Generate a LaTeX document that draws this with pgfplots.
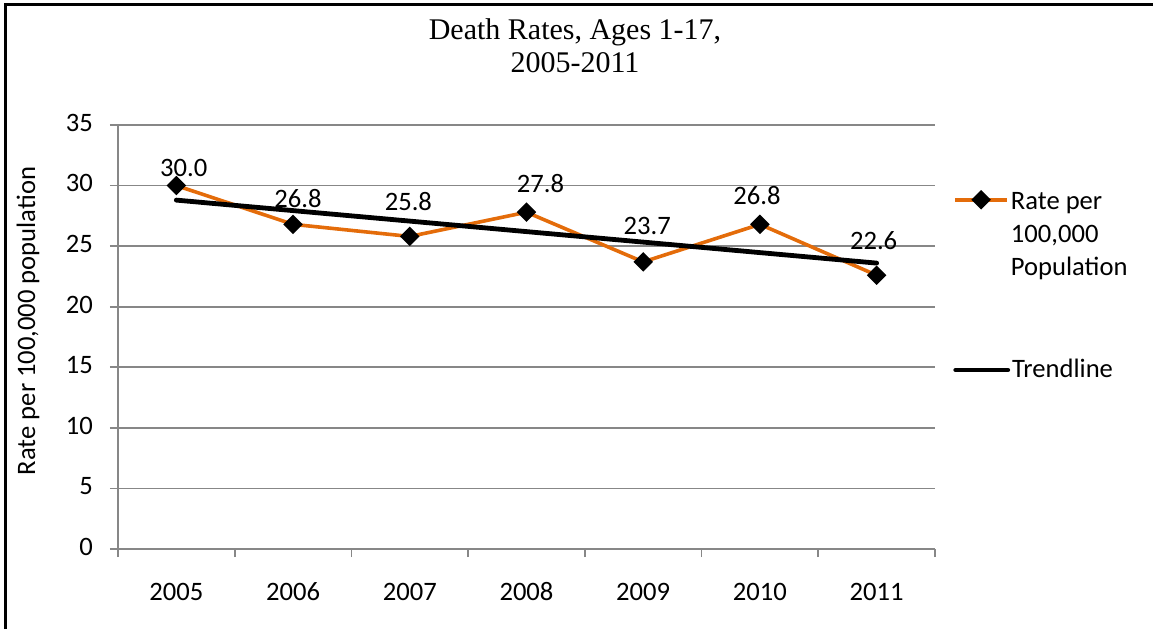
\documentclass[border=0pt]{standalone}
\usepackage{pgfplots}
\pgfplotsset{compat=1.18}
\usepackage{fontspec}
\setmainfont{Carlito}
\newfontfamily\titlefont{Liberation Serif}
\definecolor{rateorange}{HTML}{E46C0A}
\definecolor{gridgray}{HTML}{878787}

% year index, rate, label shift (pt)
\pgfplotstableread{
x  y     dx    dy
0  30.0  3.7   4.5
1  26.8  2.5   8.3
2  25.8  -0.7  12.8
3  27.8  7.0   10.0
4  23.7  2.0   13.5
5  26.8  -1.5  9.8
6  22.6  -1.5  13.0
}\ratedata

\pgfplotsset{
  chartbox/.style={at={(59pt,40pt)}, anchor=south west,
    scale only axis, width=408.5pt, height=212pt,
    xmin=-0.5, xmax=6.5, ymin=0, ymax=35},
  chartlegend/.style={draw=none, fill=none,
    font=\fontsize{13.3}{16.5}\selectfont, inner sep=0pt, nodes={inner sep=1pt}},
  legend cell align=left,
  legend image code/.code={\draw[mark repeat=2, mark phase=2]
    plot coordinates {(0pt,0pt) (13pt,0pt) (26pt,0pt)};},
}

\begin{document}
\begin{tikzpicture}
\useasboundingbox (0,0) rectangle (576.5pt,314.5pt);
% frame: only the top and left edges show in the reference
\draw[line width=1.2pt] (2.75pt,0pt) -- (2.75pt,312.3pt) -- (576.5pt,312.3pt);
\node[font=\titlefont\fontsize{15}{16.5}\selectfont, align=center] at (287.5pt,291.5pt)
  {Death Rates, Ages 1-17,\\2005-2011};
\begin{axis}[
    chartbox,
    axis lines*=left,
    axis line style={gridgray, line width=0.8pt},
    xtick={0,...,6},
    xticklabels={2005,2006,2007,2008,2009,2010,2011},
    minor xtick={-0.5,0.5,...,6.5},
    ytick={0,5,...,35},
    xtick pos=bottom, ytick pos=left,
    tick align=outside,
    major tick length=4pt, minor tick length=4pt,
    major x tick style={draw=none},
    minor x tick style={gridgray, line width=0.8pt},
    major y tick style={gridgray, line width=0.8pt},
    ymajorgrids,
    major grid style={gridgray, line width=0.8pt},
    /pgf/number format/assume math mode=true,
    typeset ticklabels with strut,
    tick label style={font=\fontsize{13.3}{16}\selectfont, text=black},
    xticklabel style={yshift=-7pt},
    yticklabel style={xshift=-5pt},
    ylabel={Rate per 100,000 population},
    every axis y label/.style={at={(axis description cs:-0.110,0.538)}, rotate=90, anchor=center,
      font=\fontsize{13.3}{16}\selectfont},
    legend style={chartlegend, at={(rel axis cs:1.022,0.86)}, anchor=north west},
]
\addplot[rateorange, line width=1.8pt, mark=square*,
    mark options={fill=black, draw=black, rotate=45, mark size=2.55pt},
    visualization depends on={\thisrow{dx} \as \labdx},
    visualization depends on={\thisrow{dy} \as \labdy},
    nodes near coords={\pgfmathprintnumber[fixed, fixed zerofill, precision=1]{\pgfplotspointmeta}},
    every node near coord/.append style={font=\fontsize{13.3}{16}\selectfont, text=black,
      anchor=base, inner sep=0pt, xshift=\labdx pt, yshift=\labdy pt}]
  table[x=x, y=y] {\ratedata};
\addlegendentry{\begin{tabular}[t]{@{}l@{}}Rate per\\100,000\\Population\end{tabular}}
\addplot[black, line width=2.4pt, line cap=round, no marks, forget plot]
  coordinates {(0,28.8) (6,23.6)};
\end{axis}
% second, empty axis only to hold the trendline entry lower down
\begin{axis}[
    chartbox, hide axis,
    legend style={chartlegend, at={(rel axis cs:1.022,0.422)}, anchor=west},
]
\addlegendimage{black, line width=2.4pt, line cap=round}
\addlegendentry{Trendline}
\end{axis}
\end{tikzpicture}
\end{document}
